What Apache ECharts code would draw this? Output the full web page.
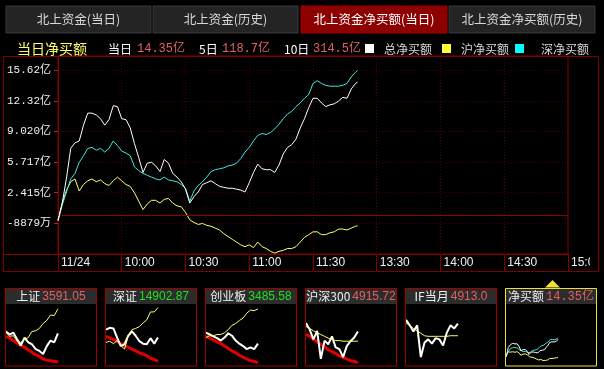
<!DOCTYPE html>
<html><head><meta charset="utf-8">
<script src="https://cdn.jsdelivr.net/npm/echarts@6/dist/echarts.min.js"></script>
<style>html,body{margin:0;padding:0;background:#000;overflow:hidden}#c{width:604px;height:369px}</style>
</head><body><div id="c"></div>
<script>
// ---------- data ----------
const tabLabels = ['北上资金(当日)','北上资金(历史)','北上资金净买额(当日)','北上资金净买额(历史)'];
const timeLabels = ['11/24','10:00','10:30','11:00','11:30','13:30','14:00','14:30','15:00'];
const yTickLabels = ['-8879万','2.415亿','5.717亿','9.020亿','12.32亿','15.62亿'];
const summaryLabels = ['当日','5日','10日'];
const summaryValues = ['14.35亿','118.7亿','314.5亿'];
const legendNames = ['总净买额','沪净买额','深净买额'];
// minutes since 9:30 (trading minutes)
const mainMinutes = [0,2,4,6,8,10,12,14,16,18,20,22,24,26,28,30,32,34,36,38,40,42,44,46,48,50,52,54,56,58,60,62,64,66,68,70,72,74,76,78,80,82,84,86,88,90,92,94,96,98,100,102,104,106,108,110,112,114,116,118,120,122,124,126,128,130,132,134,136,138,140,141];
// 亿元
const totalNet = [-0.6,1.3,4.0,7.2,7.8,8.0,9.7,11.0,11.0,10.8,
  10.4,9.7,10.3,11.8,11.7,10.4,10.3,9.4,7.7,6.2,
  4.6,5.6,5.7,5.3,4.7,6.0,5.6,4.5,4.1,3.6,
  2.8,1.3,2.0,2.5,3.3,3.5,3.7,3.4,3.1,3.0,
  2.9,2.9,2.8,2.7,2.5,3.5,4.6,5.5,5.0,4.9,
  4.9,4.6,5.4,6.6,7.3,7.6,8.2,9.4,10.4,11.6,
  12.6,12.6,12.1,11.7,11.9,12.0,12.3,12.7,12.6,13.6,
  14.2,14.35];
const shNet = [-0.5,1.3,2.7,3.6,3.9,2.6,3.3,3.7,3.9,3.6,
  3.8,3.4,3.2,3.7,4.1,3.7,3.3,3.1,2.4,1.5,
  0.6,1.2,1.6,1.6,1.3,1.7,1.8,1.3,1.0,0.9,
  0.3,-0.5,-0.8,-1.0,-0.9,-1.1,-1.2,-1.4,-1.6,-2.0,
  -2.3,-2.6,-2.9,-3.2,-3.4,-3.2,-3.5,-2.9,-3.4,-3.6,
  -3.9,-4.1,-3.9,-3.8,-3.6,-3.6,-3.4,-2.9,-2.4,-2.1,
  -1.8,-1.8,-2.1,-2.1,-1.9,-1.8,-1.5,-1.5,-1.6,-1.4,
  -1.2,-1.15];
const szNet = [-0.6,1.1,2.5,3.9,4.5,5.7,6.4,7.2,7.3,7.0,
  7.2,6.8,7.2,8.0,7.5,6.9,6.7,6.4,5.2,4.8,
  4.5,4.3,4.1,3.9,3.8,4.1,3.8,3.7,3.6,3.3,
  2.9,1.5,2.6,3.2,3.6,4.1,4.7,4.9,5.0,5.1,
  5.3,5.4,5.6,6.1,6.8,7.3,8.0,8.6,8.8,8.7,
  8.9,9.3,9.8,10.4,10.9,11.2,11.7,12.1,12.6,13.0,
  14.2,14.5,14.2,14.0,13.9,13.9,13.9,14.0,14.2,14.9,
  15.4,15.6];
// thumbnails (relative levels 0-100)
const thumbNames = ['上证','深证','创业板','沪深300','IF当月','净买额'];
const thumbValues = ['3591.05','14902.87','3485.58','4915.72','4913.0','14.35亿'];
const thumbTimes = [0,10,20,30,40,50,60,70,80,90,100,110,120,130,140];
const shIdxWhite = [55,50,53,42,32,45,37,34,26,23,18,31,40,37,52];
const shIdxYellow = [53,47,48,39,37,42,45,55,56,60,68,73,82,81,92];
const shIdxRed = [47,44,40,36,32,29,25,21,17,14,10,8,7,6,5];
const szIdxWhite = [58,61,60,45,31,34,48,55,48,39,35,34,44,35,45];
const szIdxYellow = [37,39,35,40,32,26,48,58,60,63,69,74,87,87,94];
const szIdxRed = [47,44,42,39,35,32,29,26,23,20,18,15,11,9,6];
const cyIdxWhite = [53,50,47,44,40,45,52,48,40,35,31,26,29,26,35];
const cyIdxYellow = [45,48,48,50,50,53,58,65,68,73,77,85,90,89,92];
const cyIdxRed = [47,44,41,38,35,31,27,23,20,16,13,10,7,6,4];
const hsIdxWhite = [69,58,42,56,10,40,34,47,29,26,13,31,39,45,55];
const hsIdxYellow = [63,60,56,53,50,47,44,42,40,40,39,39,39,39,39];
const hsIdxRed = [50,47,42,38,34,30,25,22,19,15,12,10,7,6,4];
const ifWhite = [74,65,55,65,13,37,42,35,44,42,32,53,65,60,68];
const ifYellow = [69,65,60,56,52,48,47,47,47,47,47,47,48,48,48];

// ---------- styles ----------
const RED = '#800000', GRIDC = '#4a0000';
const WHITE = '#ffffff', YEL = '#ffff70', CYAN = '#40e8e0';
const PINK = '#e06262', GREEN = '#22dd22';
const CJK = '"Noto Sans CJK SC", sans-serif';
const MONO = '"Liberation Mono", "Noto Sans CJK SC", monospace';
const yMin = -4.1902, yStep = 3.3023, yMax = 17.16;

const chart = echarts.init(document.getElementById('c'), null, {renderer:'canvas'});
const pair = (xs, ys) => xs.map((x, i) => [x, ys[i]]);

const grids = [{left:58, top:56, width:515, height:198, show:true, borderColor:RED, borderWidth:1, backgroundColor:'transparent'}];
const xAxes = [{
  type:'value', gridIndex:0, min:0, max:240, interval:30,
  axisLine:{show:true, onZero:false, lineStyle:{color:RED}},
  axisTick:{show:true, length:17, lineStyle:{color:RED}},
  axisLabel:{color:'#f0f0f0', fontFamily:'"Liberation Sans", Arial', fontSize:12, align:'left', margin:3, padding:[0,0,0,3],
    showMinLabel:true, showMaxLabel:true, hideOverlap:false,
    formatter:v => timeLabels[Math.round(v/30)] || ''},
  splitLine:{show:true, lineStyle:{color:GRIDC, type:[1,2]}}
}];
const yAxes = [{
  type:'value', gridIndex:0, min:yMin, max:yMax, interval:yStep,
  axisLine:{show:true, onZero:false, lineStyle:{color:RED}},
  axisTick:{show:true, length:4, lineStyle:{color:'#c02020'}},
  axisLabel:{color:'#f0f0f0', fontFamily:MONO, fontSize:11, margin:7, showMaxLabel:false,
    formatter:v => { const i = Math.round((v - yMin)/yStep) - 1;
      return (i >= 0 && i < yTickLabels.length && Math.abs(v - (yMin + (i+1)*yStep)) < 0.01) ? yTickLabels[i] : ''; }},
  splitLine:{show:true, lineStyle:{color:GRIDC, type:[1,2]}}
}];
const series = [
  {type:'line', xAxisIndex:0, yAxisIndex:0, data:pair(mainMinutes, shNet), showSymbol:false, lineStyle:{color:YEL, width:1}, z:3,
   markLine:{silent:true, symbol:'none', label:{show:false}, lineStyle:{color:'#900000', type:'solid', width:1}, data:[{yAxis:0}]}},
  {type:'line', xAxisIndex:0, yAxisIndex:0, data:pair(mainMinutes, szNet), showSymbol:false, lineStyle:{color:CYAN, width:1}, z:4},
  {type:'line', xAxisIndex:0, yAxisIndex:0, data:pair(mainMinutes, totalNet), showSymbol:false, lineStyle:{color:WHITE, width:1}, z:5}
];

const boxLefts = [5,105,205,305,405,505];
const thumbSeries = [
  [[shIdxRed,'#e00000',3],[shIdxWhite,WHITE,2],[shIdxYellow,YEL,1]],
  [[szIdxRed,'#e00000',3],[szIdxWhite,WHITE,2],[szIdxYellow,YEL,1]],
  [[cyIdxRed,'#e00000',3],[cyIdxWhite,WHITE,2],[cyIdxYellow,YEL,1]],
  [[hsIdxRed,'#e00000',3],[hsIdxWhite,WHITE,2],[hsIdxYellow,YEL,1]],
  [[ifWhite,WHITE,2],[ifYellow,YEL,1]]
];
boxLefts.forEach((bx, k) => {
  const gi = k + 1;
  grids.push({left:bx+1, top:304, width:89, height:61, show:false});
  xAxes.push({type:'value', gridIndex:gi, min:0, max:240, show:false});
  if (k < 5) {
    yAxes.push({type:'value', gridIndex:gi, min:0, max:100, show:false});
    thumbSeries[k].forEach(([d, c, w]) => series.push({type:'line', xAxisIndex:gi, yAxisIndex:gi, data:pair(thumbTimes, d), showSymbol:false, lineStyle:{color:c, width:w}}));
  } else {
    yAxes.push({type:'value', gridIndex:gi, min:-7.7, max:44.4, show:false});
    [[shNet,YEL],[szNet,CYAN],[totalNet,WHITE]].forEach(([d, c]) => series.push({type:'line', xAxisIndex:gi, yAxisIndex:gi, data:pair(mainMinutes, d), showSymbol:false, lineStyle:{color:c, width:1}}));
  }
});

// ---------- decorations ----------
const g = [];
const tabX = [[6,145],[153,145],[301,146],[449,146]];
tabX.forEach(([x, w], i) => {
  g.push({type:'rect', shape:{x:x, y:6, width:w, height:27}, style:{fill: i === 2 ? '#8c0000' : '#242424', stroke: i === 2 ? '#a00000' : '#383838', lineWidth:1}});
  g.push({type:'text', x:x + w/2, y:19.5, style:{text:tabLabels[i], fill: i === 2 ? '#ffffff' : '#d8d8d8', font:'12.5px ' + CJK, align:'center', verticalAlign:'middle', textAlign:'center', textVerticalAlign:'middle'}});
});
// summary row
const txt = (t, x, color, font) => g.push({type:'text', x:x, y:49, style:{text:t, fill:color, font:font, align:'left', verticalAlign:'middle', textAlign:'left', textVerticalAlign:'middle'}});
txt('当日净买额', 17, '#ffff66', '14px ' + CJK);
const sumX = [[108,137],[199,222],[284,313]];
summaryLabels.forEach((l, i) => { txt(l, sumX[i][0], '#ffffff', '12px ' + CJK); txt(summaryValues[i], sumX[i][1], PINK, '12px ' + MONO); });
const legX = [[365,384,'#ffffff'],[442,461,'#ffff33'],[515,541,'#00ffff']];
legendNames.forEach((n, i) => {
  g.push({type:'rect', shape:{x:legX[i][0], y:44, width:9, height:9}, style:{fill:legX[i][2]}});
  txt(n, legX[i][1], '#d8d8d8', '12px ' + CJK);
});
// main frame
g.push({type:'rect', z:100, shape:{x:590, y:255, width:14, height:16}, style:{fill:'#000'}});
g.push({type:'rect', z:101, shape:{x:3.5, y:56.5, width:595, height:215}, style:{fill:'none', stroke:RED, lineWidth:1}});
g.push({type:'line', z:101, shape:{x1:3.5, y1:254.5, x2:58, y2:254.5}, style:{stroke:RED, lineWidth:1}});
// thumbnails
boxLefts.forEach((bx, k) => {
  g.push({type:'rect', shape:{x:bx+1, y:289, width:90, height:15}, style:{fill:'#2c2c2c'}});
  g.push({type:'rect', z:50, shape:{x:bx+0.5, y:288.5, width:91, height:77.5}, style:{fill:'none', stroke: k === 5 ? '#e8e040' : '#a00000', lineWidth:1}});
  const vc = (k === 1 || k === 2) ? GREEN : PINK;
  g.push({type:'text', x:bx + 46, y:296.5, style:{text:'{n|' + thumbNames[k] + '}{v|' + thumbValues[k] + '}', align:'center', verticalAlign:'middle', textAlign:'center', textVerticalAlign:'middle',
    rich:{n:{fill:'#f0f0f0', fontSize:12, fontFamily:CJK, padding:[0,2,0,0]}, v:{fill:vc, fontSize:12, fontFamily: k === 5 ? MONO : '"Liberation Sans", Arial'}}}});
});
g.push({type:'polygon', shape:{points:[[545,287.5],[560,287.5],[552.5,280]]}, style:{fill:'#f0e030'}});

chart.setOption({animation:false, backgroundColor:'#000', grid:grids, xAxis:xAxes, yAxis:yAxes, series:series, graphic:{elements:g}});
</script></body></html>
